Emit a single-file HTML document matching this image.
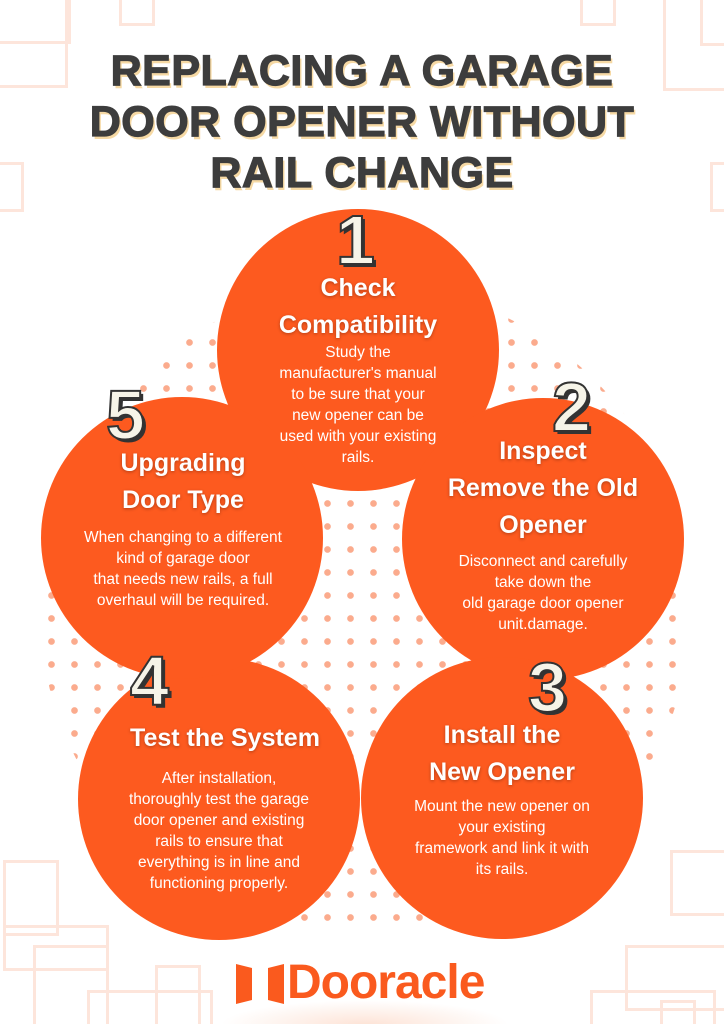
<!DOCTYPE html>
<html><head><meta charset="utf-8"><style>
html,body{margin:0;width:724px;height:1024px;overflow:hidden}
body{background:#fff;position:relative;font-family:"Liberation Sans",sans-serif}
.abs{position:absolute}
.deco{position:absolute;border:3px solid #fde5db}
.dots{position:absolute;left:40px;top:285px;width:650px;height:650px;border-radius:50%;
background-image:radial-gradient(circle,#fbab8d 3px,transparent 3.6px);
background-size:23px 23px;background-position:0 0}
.c{position:absolute;width:282px;height:282px;border-radius:50%;background:#fd5a1f}
.t{position:absolute;color:#fff;text-align:center;font-weight:bold;font-size:25px;line-height:37px;text-shadow:0 1px 3px rgba(0,0,0,.3)}
.b{position:absolute;color:#fff;text-align:center;font-size:15.5px;line-height:21px}
.n{position:absolute;font-family:"Liberation Sans",sans-serif;font-weight:bold;font-size:70px;color:#f6f4e8;-webkit-text-stroke:2px #333;text-shadow:3px 3px 0 #333;line-height:1}
h1{position:absolute;left:0;top:46px;width:724px;margin:0;text-align:center;font-size:43px;line-height:51px;font-weight:900;color:#3d3d3d;-webkit-text-stroke:1.2px #3d3d3d;text-shadow:2px 3px 0 #f6d9a4;letter-spacing:0.5px}
</style></head><body>
<div class="deco" style="left:-10px;top:-10px;width:75px;height:48px"></div>
<div class="deco" style="left:-10px;top:-10px;width:75px;height:95px;border-left:none;border-top:none"></div>
<div class="deco" style="left:119px;top:-10px;width:30px;height:30px"></div>
<div class="deco" style="left:-10px;top:162px;width:28px;height:44px"></div>
<div class="deco" style="left:580px;top:-10px;width:30px;height:30px"></div>
<div class="deco" style="left:700px;top:-10px;width:40px;height:50px"></div>
<div class="deco" style="left:663px;top:-10px;width:70px;height:95px"></div>
<div class="deco" style="left:710px;top:162px;width:28px;height:44px"></div>
<div class="deco" style="left:3px;top:860px;width:50px;height:70px"></div>
<div class="deco" style="left:33px;top:945px;width:70px;height:90px"></div>
<div class="deco" style="left:3px;top:925px;width:100px;height:40px"></div>
<div class="deco" style="left:87px;top:990px;width:120px;height:40px"></div>
<div class="deco" style="left:155px;top:965px;width:40px;height:60px"></div>
<div class="deco" style="left:670px;top:850px;width:60px;height:60px"></div>
<div class="deco" style="left:625px;top:945px;width:110px;height:60px"></div>
<div class="deco" style="left:590px;top:990px;width:120px;height:40px"></div>
<div class="deco" style="left:660px;top:1000px;width:30px;height:30px"></div>
<h1>REPLACING A GARAGE<br>DOOR OPENER WITHOUT<br>RAIL CHANGE</h1>
<div class="dots"></div>
<div class="c" style="left:217px;top:209px"></div>
<div class="c" style="left:402px;top:398px"></div>
<div class="c" style="left:361px;top:657px"></div>
<div class="c" style="left:78px;top:658px"></div>
<div class="c" style="left:41px;top:397px"></div>
<div class="n" style="left:336px;top:205px">1</div>
<div class="n" style="left:552px;top:372px">2</div>
<div class="n" style="left:528px;top:652px">3</div>
<div class="n" style="left:130px;top:646px">4</div>
<div class="n" style="left:106px;top:380px">5</div>
<div class="t" style="left:208px;top:270px;width:300px">Check<br>Compatibility</div>
<div class="b" style="left:238px;top:342px;width:240px">Study the<br>manufacturer's manual<br>to be sure that your<br>new opener can be<br>used with your existing<br>rails.</div>
<div class="t" style="left:393px;top:433px;width:300px">Inspect<br>Remove the Old<br>Opener</div>
<div class="b" style="left:403px;top:551px;width:280px">Disconnect and carefully<br>take down the<br>old garage door opener<br>unit.damage.</div>
<div class="t" style="left:352px;top:717px;width:300px">Install the<br>New Opener</div>
<div class="b" style="left:372px;top:796px;width:260px">Mount the new opener on<br>your existing<br>framework and link it with<br>its rails.</div>
<div class="t" style="left:60px;top:720px;width:330px">Test the System</div>
<div class="b" style="left:79px;top:768px;width:280px">After installation,<br>thoroughly test the garage<br>door opener and existing<br>rails to ensure that<br>everything is in line and<br>functioning properly.</div>
<div class="t" style="left:32px;top:445px;width:302px">Upgrading<br>Door Type</div>
<div class="b" style="left:42px;top:527px;width:282px">When changing to a different<br>kind of garage door<br>that needs new rails, a full<br>overhaul will be required.</div>
<div class="abs" style="left:220px;top:1000px;width:290px;height:50px;border-radius:50%;background:radial-gradient(ellipse,#fde3d6 0%,rgba(255,255,255,0) 70%)"></div>
<svg class="abs" style="left:236px;top:964px" width="48" height="40"><polygon points="0,0 16,4 16,36 0,40" fill="#fa5a1e"/><polygon points="48,0 32,4 32,36 48,40" fill="#fa5a1e"/></svg>
<div class="abs" style="left:287px;top:955px;font-size:48px;font-weight:bold;color:#fa5a1e;letter-spacing:-1px;line-height:56px">Dooracle</div>
</body></html>
